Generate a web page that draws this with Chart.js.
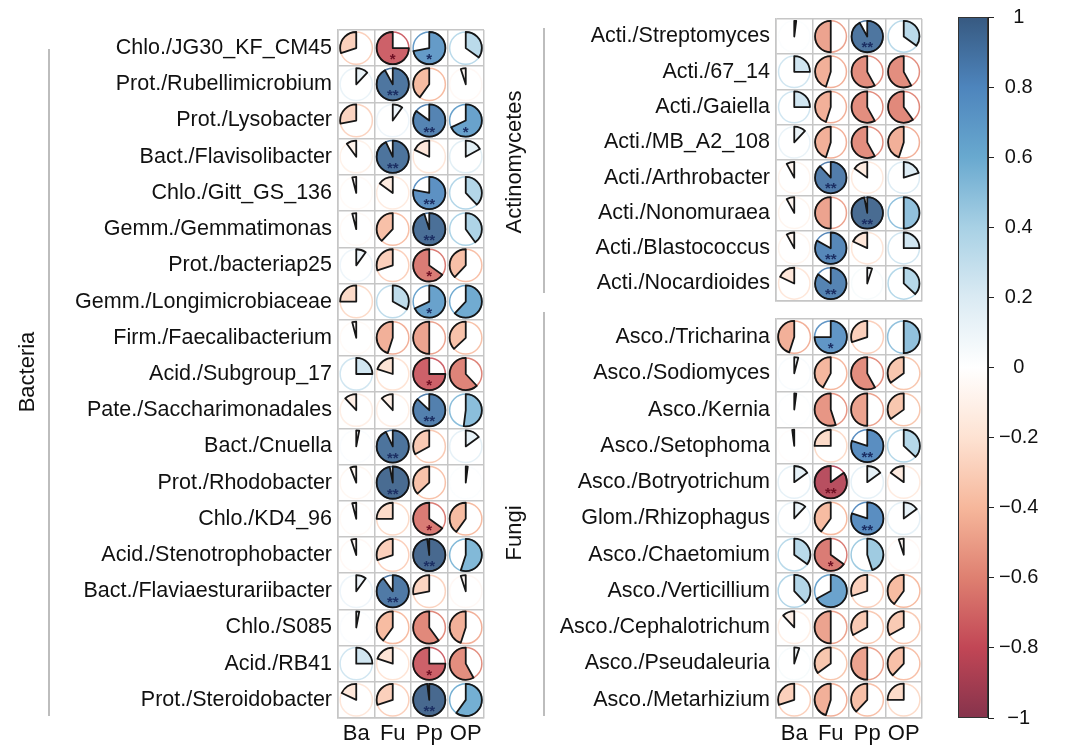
<!DOCTYPE html>
<html>
<head>
<meta charset="utf-8">
<script src="https://cdn.jsdelivr.net/npm/chart.js@4.4.0/dist/chart.umd.min.js"></script>
<style>
  body { margin: 0; background: #fff; }
  #wrap { position: relative; width: 1080px; height: 754px; overflow: hidden; }
  .box { position: absolute; }
</style>
</head>
<body>
<div id="wrap">
  <div class="box" style="left:0;top:0;width:500px;height:754px"><canvas id="bactChart"></canvas></div>
  <div class="box" style="left:470px;top:0;width:470px;height:320px"><canvas id="actiChart"></canvas></div>
  <div class="box" style="left:470px;top:300px;width:470px;height:454px"><canvas id="fungiChart"></canvas></div>
  <div class="box" style="left:940px;top:0;width:140px;height:754px"><canvas id="legendChart"></canvas></div>
</div>
<script>
// columns (environment factors)
const colLabels = ['Ba', 'Fu', 'Pp', 'OP'];

// Bacteria
const bactRows = [
  'Chlo./JG30_KF_CM45', 'Prot./Rubellimicrobium', 'Prot./Lysobacter', 'Bact./Flavisolibacter',
  'Chlo./Gitt_GS_136', 'Gemm./Gemmatimonas', 'Prot./bacteriap25', 'Gemm./Longimicrobiaceae',
  'Firm./Faecalibacterium', 'Acid./Subgroup_17', 'Pate./Saccharimonadales', 'Bact./Cnuella',
  'Prot./Rhodobacter', 'Chlo./KD4_96', 'Acid./Stenotrophobacter', 'Bact./Flaviaesturariibacter',
  'Chlo./S085', 'Acid./RB41', 'Prot./Steroidobacter'
];
const bactBa = [-0.30, 0.12, -0.28, -0.10, -0.04, -0.04, 0.10, -0.25, -0.04, 0.25, -0.12, 0.03, -0.06, -0.04, -0.05, 0.10, 0.03, 0.25, -0.18];
const bactFu = [-0.75, 0.92, 0.10, 0.93, -0.15, -0.38, -0.30, 0.33, -0.45, -0.20, -0.12, 0.93, 0.97, -0.25, -0.30, 0.90, -0.40, -0.20, -0.30];
const bactPp = [0.72, -0.40, 0.85, -0.18, 0.78, 0.95, -0.65, 0.68, -0.50, -0.75, 0.87, -0.33, -0.37, -0.65, 0.98, -0.28, -0.60, -0.75, 0.98];
const bactOp = [0.35, -0.05, 0.68, 0.17, 0.38, 0.40, -0.38, 0.62, -0.37, -0.62, 0.52, 0.15, 0.02, -0.40, 0.55, -0.05, -0.45, -0.58, 0.60];
const bactSig = [
  ['', '*', '*', ''], ['', '**', '', ''], ['', '', '**', '*'], ['', '**', '', ''],
  ['', '', '**', ''], ['', '', '**', ''], ['', '', '*', ''], ['', '', '*', ''],
  ['', '', '', ''], ['', '', '*', ''], ['', '', '**', ''], ['', '**', '', ''],
  ['', '**', '', ''], ['', '', '*', ''], ['', '', '**', ''], ['', '**', '', ''],
  ['', '', '', ''], ['', '', '*', ''], ['', '', '**', '']
];

// Actinomycetes
const actiRows = [
  'Acti./Streptomyces', 'Acti./67_14', 'Acti./Gaiella', 'Acti./MB_A2_108',
  'Acti./Arthrobacter', 'Acti./Nonomuraea', 'Acti./Blastococcus', 'Acti./Nocardioides'
];
const actiBa = [0.02, 0.25, 0.25, 0.12, -0.08, -0.08, -0.08, -0.18];
const actiFu = [-0.50, -0.45, -0.45, -0.45, 0.88, -0.50, 0.83, 0.85];
const actiPp = [0.92, -0.58, -0.58, -0.58, -0.15, 0.97, -0.18, 0.05];
const actiOp = [0.35, -0.58, -0.60, -0.45, 0.20, 0.50, 0.25, 0.37];
const actiSig = [
  ['', '', '**', ''], ['', '', '', ''], ['', '', '', ''], ['', '', '', ''],
  ['', '**', '', ''], ['', '', '**', ''], ['', '**', '', ''], ['', '**', '', '']
];

// Fungi
const fungiRows = [
  'Asco./Tricharina', 'Asco./Sodiomyces', 'Asco./Kernia', 'Asco./Setophoma',
  'Asco./Botryotrichum', 'Glom./Rhizophagus', 'Asco./Chaetomium', 'Asco./Verticillium',
  'Asco./Cephalotrichum', 'Asco./Pseudaleuria', 'Asco./Metarhizium'
];
const fungiBa = [-0.45, 0.04, 0.02, -0.02, 0.15, 0.12, 0.35, 0.38, -0.12, 0.05, -0.30];
const fungiFu = [0.75, -0.42, -0.55, -0.25, -0.85, -0.40, -0.65, 0.67, -0.50, -0.35, -0.45];
const fungiPp = [-0.30, -0.58, -0.50, 0.80, 0.15, 0.80, 0.45, -0.30, -0.33, -0.50, -0.38];
const fungiOp = [0.50, -0.35, -0.35, 0.37, -0.15, 0.15, -0.05, -0.40, -0.33, -0.38, -0.25];
const fungiSig = [
  ['', '*', '', ''], ['', '', '', ''], ['', '', '', ''], ['', '', '**', ''],
  ['', '**', '', ''], ['', '', '**', ''], ['', '*', '', ''], ['', '', '', ''],
  ['', '', '', ''], ['', '', '', ''], ['', '', '', '']
];

// RdBu palette, -1 -> 1
const rdbu = ['#67001F', '#B2182B', '#D6604D', '#F4A582', '#FDDBC7', '#FFFFFF',
              '#D1E5F0', '#92C5DE', '#4393C3', '#2166AC', '#053061'];
const gridColor = '#c6c6c6';
const fontFamily = '"Liberation Sans", Arial, sans-serif';

Chart.defaults.font.family = fontFamily;
Chart.defaults.color = '#111';

function hexRgb(h) {
  return [1, 3, 5].map(i => parseInt(h.slice(i, i + 2), 16));
}

function corrColor(v, alpha) {
  const t = (Math.max(-1, Math.min(1, v)) + 1) / 2 * (rdbu.length - 1);
  const i = Math.min(Math.floor(t), rdbu.length - 2);
  const f = t - i;
  const a = hexRgb(rdbu[i]), b = hexRgb(rdbu[i + 1]);
  const rgb = a.map((c, k) => Math.round(c + (b[k] - c) * f));
  return `rgba(${rgb.join(',')},${alpha})`;
}

// one point per cell, placed by the category scales
function buildCells(rows, cols, sig) {
  const out = [];
  rows.forEach((row, i) => {
    cols.forEach((vals, j) => {
      out.push({ x: colLabels[j], y: row, v: vals[i], sig: sig[i][j] });
    });
  });
  return out;
}

// draws the pie glyphs at the points' positions
const pieCells = {
  id: 'pieCells',
  afterDatasetsDraw(chart) {
    const { ctx, scales: { x, y } } = chart;
    const cw = Math.abs(x.getPixelForValue(1) - x.getPixelForValue(0));
    const ch = Math.abs(y.getPixelForValue(1) - y.getPixelForValue(0));
    const rad = Math.min(cw, ch) * 0.445;
    const meta = chart.getDatasetMeta(0);
    const data = chart.data.datasets[0].data;

    meta.data.forEach((pt, i) => {
      const d = data[i];
      const col = corrColor(d.v, 0.74);
      ctx.save();
      // faint ring
      ctx.beginPath();
      ctx.arc(pt.x, pt.y, rad, 0, Math.PI * 2);
      ctx.strokeStyle = col;
      ctx.lineWidth = 1.5;
      ctx.stroke();
      // wedge from 12 o'clock, clockwise for positive
      const start = -Math.PI / 2;
      const end = start + Math.PI * 2 * d.v;
      ctx.beginPath();
      ctx.moveTo(pt.x, pt.y);
      ctx.arc(pt.x, pt.y, rad, start, end, d.v < 0);
      ctx.closePath();
      ctx.fillStyle = col;
      ctx.fill();
      ctx.strokeStyle = '#161616';
      ctx.lineWidth = 1.8;
      ctx.lineJoin = 'round';
      ctx.stroke();
      // significance stars
      if (d.sig) {
        ctx.fillStyle = d.v > 0 ? '#1c2f63' : '#6e1024';
        ctx.font = 'bold 15px ' + fontFamily;
        ctx.textAlign = 'center';
        ctx.textBaseline = 'alphabetic';
        ctx.fillText(d.sig, pt.x, pt.y + rad * 1.0);
      }
      ctx.restore();
    });
  }
};

// group name + bracket line at the left of a panel
const groupLabel = {
  id: 'groupLabel',
  afterDraw(chart, args, opts) {
    if (!opts || !opts.text) return;
    const ctx = chart.ctx;
    ctx.save();
    ctx.strokeStyle = '#bdbdbd';
    ctx.lineWidth = 2;
    ctx.beginPath();
    ctx.moveTo(opts.lineX, opts.lineTop);
    ctx.lineTo(opts.lineX, opts.lineBottom);
    ctx.stroke();
    ctx.translate(opts.x, opts.y);
    ctx.rotate(-Math.PI / 2);
    ctx.fillStyle = '#111';
    ctx.font = '22px ' + fontFamily;
    ctx.textAlign = 'center';
    ctx.textBaseline = 'middle';
    ctx.fillText(opts.text, 0, 0);
    ctx.restore();
  }
};

function gridChart(id, rows, cols, sig, cfg) {
  return new Chart(document.getElementById(id), {
    type: 'scatter',
    data: {
      datasets: [{ data: buildCells(rows, cols, sig), pointRadius: 0, pointHoverRadius: 0 }]
    },
    options: {
      responsive: true,
      maintainAspectRatio: false,
      animation: false,
      layout: { padding: cfg.padding },
      plugins: {
        legend: { display: false },
        tooltip: { enabled: false },
        groupLabel: cfg.group
      },
      scales: {
        x: {
          type: 'category',
          labels: colLabels,
          offset: true,
          grid: { offset: true, color: gridColor, lineWidth: 1.5, drawTicks: false },
          border: { color: gridColor, width: 1.5 },
          ticks: {
            display: cfg.showX, color: '#111', font: { size: 22 }, padding: 3,
            autoSkip: false, maxRotation: 0, minRotation: 0
          },
          afterFit: s => { s.height = cfg.xHeight; }
        },
        y: {
          type: 'category',
          labels: rows,
          offset: true,
          grid: { offset: true, color: gridColor, lineWidth: 1.5, drawTicks: false },
          border: { color: gridColor, width: 1.5 },
          ticks: { color: '#111', font: { size: 21.5 }, padding: 6, autoSkip: false },
          afterFit: s => { s.width = cfg.yWidth; }
        }
      }
    },
    plugins: [pieCells, groupLabel]
  });
}

gridChart('bactChart', bactRows, [bactBa, bactFu, bactPp, bactOp], bactSig, {
  padding: { top: 30, right: 16, bottom: 0, left: 0 },
  yWidth: 338, xHeight: 36, showX: true,
  group: { text: 'Bacteria', x: 28, y: 372, lineX: 49, lineTop: 49, lineBottom: 716 }
});

gridChart('actiChart', actiRows, [actiBa, actiFu, actiPp, actiOp], actiSig, {
  padding: { top: 16, right: 18, bottom: 15, left: 0 },
  yWidth: 306, xHeight: 0, showX: false,
  group: { text: 'Actinomycetes', x: 45, y: 162, lineX: 74, lineTop: 28, lineBottom: 293 }
});

gridChart('fungiChart', fungiRows, [fungiBa, fungiFu, fungiPp, fungiOp], fungiSig, {
  padding: { top: 18, right: 18, bottom: 0, left: 0 },
  yWidth: 306, xHeight: 36, showX: true,
  group: { text: 'Fungi', x: 45, y: 233, lineX: 74, lineTop: 12, lineBottom: 416 }
});

// color legend: gradient painted into the chart area of a -1..1 axis
const colorBar = {
  id: 'colorBar',
  beforeDatasetsDraw(chart) {
    const { ctx, chartArea: a } = chart;
    const g = ctx.createLinearGradient(0, a.bottom, 0, a.top);
    rdbu.forEach((c, i) => g.addColorStop(i / (rdbu.length - 1), corrColor(-1 + 2 * i / (rdbu.length - 1), 0.8)));
    ctx.save();
    ctx.fillStyle = g;
    ctx.fillRect(a.left, a.top, a.right - a.left, a.bottom - a.top);
    ctx.strokeStyle = '#333';
    ctx.lineWidth = 1;
    ctx.strokeRect(a.left + 0.5, a.top + 0.5, a.right - a.left - 1, a.bottom - a.top - 1);
    ctx.restore();
  }
};

new Chart(document.getElementById('legendChart'), {
  type: 'scatter',
  data: { datasets: [] },
  options: {
    responsive: true,
    maintainAspectRatio: false,
    animation: false,
    layout: { padding: { left: 18, right: 40, top: 17, bottom: 36 } },
    plugins: { legend: { display: false }, tooltip: { enabled: false } },
    scales: {
      x: { display: false },
      y: {
        position: 'right',
        min: -1,
        max: 1,
        grid: { drawOnChartArea: false, drawTicks: true, tickLength: 6, color: '#222' },
        border: { display: true, color: '#222' },
        ticks: {
          stepSize: 0.2,
          crossAlign: 'center',
          padding: 5,
          color: '#111',
          font: { size: 20 },
          callback: v => {
            const r = Math.round(v * 10) / 10;
            if (r === 0) return '0';
            return (r < 0 ? '\u2212' : '') + Math.abs(r);
          }
        },
        afterFit: s => { s.width = 52; }
      }
    }
  },
  plugins: [colorBar]
});
</script>
</body>
</html>
